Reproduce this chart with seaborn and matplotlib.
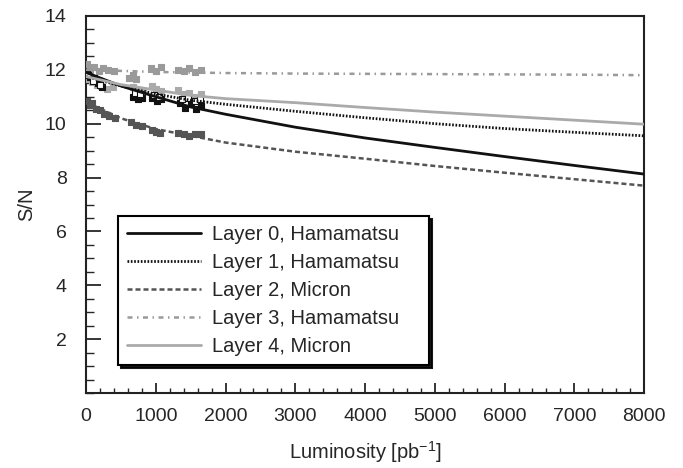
import numpy as np
import pandas as pd
import matplotlib
matplotlib.use('Agg')
import matplotlib.pyplot as plt
from matplotlib.ticker import MultipleLocator
import seaborn as sns

# Fitted curves (luminosity grid, S/N per layer)
lumi = [0, 500, 1000, 1500, 2000, 3000, 4000, 5000, 6000, 7000, 8000]
fit_l0 = [11.9, 11.4, 11.0, 10.62, 10.35, 9.87, 9.47, 9.12, 8.78, 8.45, 8.13]
fit_l1 = [11.75, 11.4, 11.1, 10.87, 10.72, 10.46, 10.22, 10.0, 9.82, 9.68, 9.55]
fit_l2 = [10.8, 10.2, 9.8, 9.55, 9.3, 8.96, 8.7, 8.43, 8.18, 7.94, 7.7]
fit_l3 = [12.0, 11.96, 11.92, 11.9, 11.88, 11.86, 11.85, 11.84, 11.83, 11.82, 11.8]
fit_l4 = [11.75, 11.45, 11.25, 11.05, 10.93, 10.78, 10.6, 10.43, 10.28, 10.13, 9.98]

# Measured points
pts_l0_x = [20, 60, 110, 170, 230, 680, 740, 800, 950, 1010, 1070, 1350, 1420, 1500, 1580, 1650]
pts_l0_y = [11.9, 11.75, 11.7, 11.5, 11.35, 11.0, 10.9, 10.95, 10.95, 10.85, 10.9, 10.75, 10.6, 10.8, 10.55, 10.65]
pts_l1_x = [30, 100, 200, 700, 780, 980, 1050, 1380, 1460, 1560, 1640]
pts_l1_y = [11.8, 11.6, 11.45, 11.15, 11.1, 11.05, 11.0, 10.9, 10.95, 10.85, 10.9]
pts_l2_x = [15, 50, 90, 140, 200, 260, 330, 420, 650, 720, 800, 940, 1000, 1060, 1320, 1400, 1480, 1560, 1650]
pts_l2_y = [10.85, 10.7, 10.75, 10.55, 10.5, 10.35, 10.3, 10.2, 10.05, 9.95, 9.9, 9.75, 9.7, 9.65, 9.65, 9.6, 9.55, 9.62, 9.6]
pts_l3_x = [15, 60, 120, 180, 250, 320, 400, 620, 680, 720, 930, 1000, 1080, 1320, 1400, 1480, 1560, 1650]
pts_l3_y = [12.2, 12.0, 12.1, 11.95, 12.05, 12.0, 11.95, 11.7, 11.8, 11.65, 12.05, 11.95, 12.1, 12.0, 11.95, 12.05, 11.9, 12.0]
pts_l4_x = [20, 80, 150, 220, 300, 380, 680, 750, 820, 940, 1000, 1080, 1320, 1400, 1480, 1560, 1650]
pts_l4_y = [11.65, 11.55, 11.45, 11.4, 11.3, 11.35, 11.35, 11.25, 11.2, 11.4, 11.3, 11.2, 11.25, 11.1, 11.15, 11.0, 11.1]

labels = ['Layer 0, Hamamatsu', 'Layer 1, Hamamatsu', 'Layer 2, Micron',
          'Layer 3, Hamamatsu', 'Layer 4, Micron']

sns.set_theme(style='ticks')
plt.rcParams['font.family'] = ['Liberation Sans', 'DejaVu Sans']

fig, ax = plt.subplots(figsize=(6.83, 4.68), dpi=100)
fig.subplots_adjust(left=0.126, right=0.943, top=0.966, bottom=0.160)

styles = [
    dict(color='#111111', linestyle='-', lw=2.0),
    dict(color='#111111', linestyle=(0, (0.6, 0.6)), lw=2.0),
    dict(color='#555555', linestyle=(0, (2, 1.2)), lw=1.8),
    dict(color='#9a9a9a', linestyle=(0, (2, 1.8, 0.6, 1.8)), lw=1.8),
    dict(color='#aaaaaa', linestyle='-', lw=2.0),
]
fits = [fit_l0, fit_l1, fit_l2, fit_l3, fit_l4]
pts = [(pts_l0_x, pts_l0_y), (pts_l1_x, pts_l1_y), (pts_l2_x, pts_l2_y),
       (pts_l3_x, pts_l3_y), (pts_l4_x, pts_l4_y)]
mfc = ['#111111', 'white', '#555555', '#9a9a9a', '#aaaaaa']
mec = ['#111111', '#111111', '#555555', '#9a9a9a', '#aaaaaa']

# data markers first (draw order as in the original)
for i in [3, 4, 2, 0, 1]:
    px, py = pts[i]
    sns.scatterplot(x=px, y=py, ax=ax, marker='s', s=22, color=mfc[i],
                    edgecolor=mec[i], linewidth=0.8, zorder=3)

for i in range(5):
    sns.lineplot(x=lumi, y=fits[i], ax=ax, label=labels[i], zorder=4,
                 color=styles[i]['color'], linestyle=styles[i]['linestyle'],
                 linewidth=styles[i]['lw'])

ax.set_xlim(0, 8000)
ax.set_ylim(0, 14)
ax.set_yticks([2, 4, 6, 8, 10, 12, 14])
ax.xaxis.set_major_locator(MultipleLocator(1000))
ax.xaxis.set_minor_locator(MultipleLocator(200))
ax.yaxis.set_minor_locator(MultipleLocator(0.5))
ax.tick_params(axis='y', which='major', direction='in', length=11, width=1.3, labelsize=14, pad=14)
ax.tick_params(axis='y', which='minor', direction='in', length=5.5, width=1.0)
ax.tick_params(axis='x', which='major', direction='in', length=7, width=1.3, labelsize=14, pad=11)
ax.tick_params(axis='x', which='minor', direction='in', length=3.5, width=1.0)
for s in ax.spines.values():
    s.set_linewidth(1.5)
    s.set_color('#222222')
ax.set_xlabel('Luminosity [pb$^{\\mathregular{-1}}$]', fontsize=14.5, labelpad=10)
ax.set_ylabel('S/N', fontsize=14.5, labelpad=6)

leg = ax.legend(loc='lower left', bbox_to_anchor=(0.057, 0.074, 0.558, 0.39),
                mode='expand', borderaxespad=0, fontsize=14.5, handlelength=3.7,
                handletextpad=0.5, labelspacing=0.45, borderpad=0.45, frameon=True,
                fancybox=False, shadow={'color': 'black', 'alpha': 0.9}, framealpha=1)
leg.get_frame().set_edgecolor('black')
leg.get_frame().set_linewidth(1.5)

fig.savefig('out.png', dpi=100)
